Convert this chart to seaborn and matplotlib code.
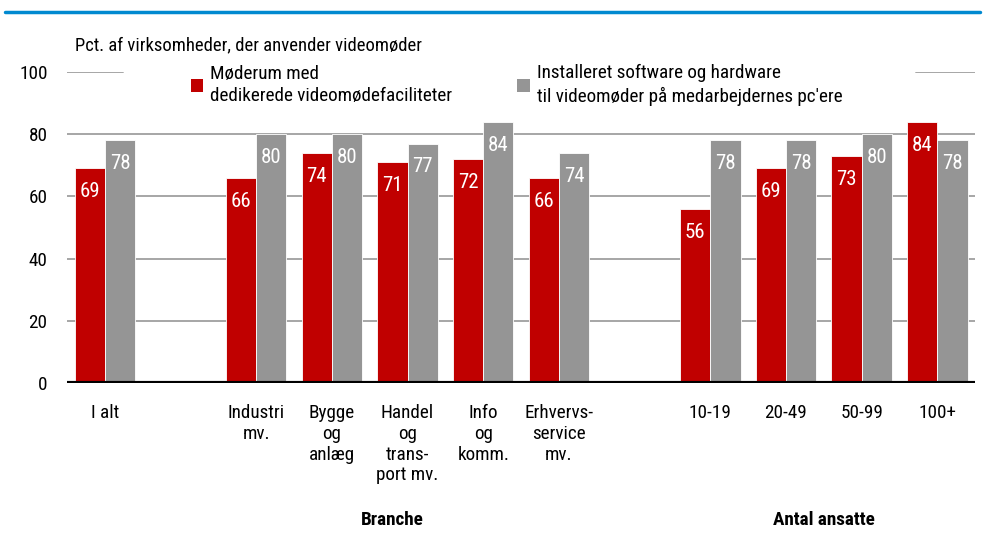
import numpy as np
import pandas as pd
import seaborn as sns
from matplotlib import pyplot as plt

# data
categories = ["I alt", "", "Industri\nmv.", "Bygge\nog\nanlæg", "Handel\nog\ntrans-\nport mv.",
              "Info\nog\nkomm.", "Erhvervs-\nservice\nmv.", " ", "10-19", "20-49", "50-99", "100+"]
moderum = [69, np.nan, 66, 74, 71, 72, 66, np.nan, 56, 69, 73, 84]
software = [78, np.nan, 80, 80, 77, 84, 74, np.nan, 78, 78, 80, 78]
series_names = ["Møderum med\ndedikerede videomødefaciliteter",
                "Installeret software og hardware\ntil videomøder på medarbejdernes pc'ere"]
group_labels = ["Branche", "Antal ansatte"]
title = "Pct. af virksomheder, der anvender videomøder"

RED = "#C00000"
GREY = "#959595"
FS = 13.8

sns.set_style("white")
plt.rcParams["font.family"] = ["Roboto Condensed", "DejaVu Sans"]
plt.rcParams["text.color"] = "black"
plt.rcParams["xtick.color"] = "black"
plt.rcParams["ytick.color"] = "black"

df = pd.DataFrame({
    "kategori": categories * 2,
    "serie": [series_names[0]] * len(categories) + [series_names[1]] * len(categories),
    "pct": moderum + software,
})

fig = plt.figure(figsize=(9.85, 5.45), dpi=100)
ax = fig.add_axes([0.068, 0.297, 0.922, 0.571])

sns.barplot(data=df, x="kategori", y="pct", hue="serie", order=categories,
            hue_order=series_names, palette=[RED, GREY], saturation=1, width=0.8,
            edgecolor="white", linewidth=0.6, ax=ax, zorder=2)

ax.set_ylim(0, 100)
ax.set_xlim(-0.5, len(categories) - 0.5)
ax.set_yticks([0, 20, 40, 60, 80, 100])
ax.tick_params(axis="y", length=0, pad=14, labelsize=FS)
ax.tick_params(axis="x", length=0, pad=15, labelsize=FS)
for lbl in ax.get_xticklabels():
    lbl.set_linespacing(1.2)
    lbl.set_verticalalignment("top")
ax.set_xlabel("")
ax.set_ylabel("")
for s in ax.spines.values():
    s.set_visible(False)

# gridlines (100-line only visible outside the legend area)
for y in [20, 40, 60, 80]:
    ax.axhline(y, color="#A6A6A6", lw=1.4, zorder=1)
ax.axhline(100, xmin=0, xmax=0.062, color="#A6A6A6", lw=1.4, zorder=1)
ax.axhline(100, xmin=0.935, xmax=1, color="#A6A6A6", lw=1.4, zorder=1)
ax.axhline(0, color="black", lw=3, zorder=3)

# value labels inside bars
for cont in ax.containers:
    for bar in cont:
        h = bar.get_height()
        if np.isnan(h) or h == 0:
            continue
        ax.annotate(f"{h:.0f}", (bar.get_x() + bar.get_width() / 2, h),
                    xytext=(0, -10), textcoords="offset points", ha="center",
                    va="top", color="white", fontsize=15, zorder=4)

leg = ax.legend(loc="upper left", bbox_to_anchor=(0.128, 1.05), ncol=2,
                frameon=False, fontsize=FS, handlelength=0.65, handleheight=0.65,
                handletextpad=0.35, columnspacing=3.4, borderaxespad=0)
for t in leg.get_texts():
    t.set_linespacing(1.3)
for h in leg.legend_handles:
    h.set_edgecolor("none")

ax.text(0.009, 1.087, title, transform=ax.transAxes, fontsize=13.4, va="center", ha="left")

ax.text(3.8, -0.44, group_labels[0], transform=ax.get_xaxis_transform(),
        ha="center", va="center", fontsize=FS, fontweight="bold")
ax.text(9.5, -0.44, group_labels[1], transform=ax.get_xaxis_transform(),
        ha="center", va="center", fontsize=FS, fontweight="bold")

# blue rule at the top
fig.add_artist(plt.Line2D([0.005, 0.995], [0.978, 0.978], color="#0089D0", lw=2.5,
                          transform=fig.transFigure))

fig.savefig("out.png", dpi=100)
